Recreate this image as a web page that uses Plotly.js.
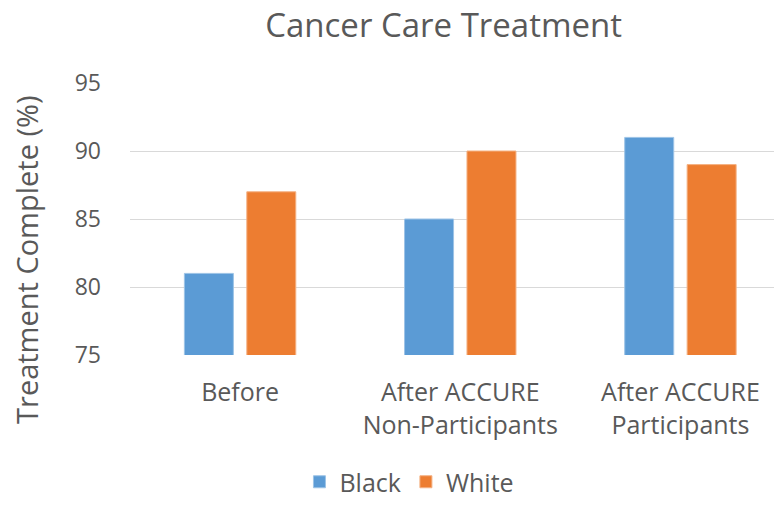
<!DOCTYPE html>
<html>
<head>
<meta charset="utf-8">
<script src="https://cdn.plot.ly/plotly-3.0.1.min.js"></script>
<style>html,body{margin:0;padding:0;background:#fff;}#chart{width:774px;height:505px;}</style>
</head>
<body>
<div id="chart"></div>
<script>
const categories = ["Before", "After ACCURE<br>Non-Participants", "After ACCURE<br>Participants"];
const blackValues = [81, 85, 91];
const whiteValues = [87, 90, 89];
const seriesNames = ["Black", "White"];
const yTicks = [75, 80, 85, 90, 95];

const FONT = "'Open Sans', 'Noto Sans', sans-serif";
const GREY = "#595959";

const traces = [
  {type: "bar", name: seriesNames[0], x: categories, y: blackValues,
   marker: {color: "#5B9BD5", line: {color: "#9DC3E6", width: 1}}},
  {type: "bar", name: seriesNames[1], x: categories, y: whiteValues,
   marker: {color: "#ED7D31", line: {color: "#F4B183", width: 1}}}
];

const layout = {
  width: 774, height: 505,
  margin: {l: 130, r: 0, t: 83, b: 150, pad: 0, autoexpand: false},
  paper_bgcolor: "#fff", plot_bgcolor: "#fff",
  font: {family: FONT, color: GREY, size: 22},
  title: {text: "Cancer Care Treatment", font: {family: FONT, size: 33, color: GREY},
          x: 0.487, xref: "paper", xanchor: "center", y: 0.95, yref: "container", yanchor: "middle"},
  barmode: "group",
  bargap: 0.433,
  bargroupgap: 0.215,
  xaxis: {type: "category", range: [-0.5, 2.425], showgrid: false, zeroline: false,
          showline: false, ticks: "", ticklabelstandoff: 20,
          tickfont: {family: FONT, size: 25, color: GREY}, fixedrange: true},
  yaxis: {range: [75, 95], tickvals: yTicks, showgrid: true, gridcolor: "#D9D9D9", gridwidth: 1,
          zeroline: false, showline: false, ticks: "", ticklabelstandoff: 28,
          tickfont: {family: FONT, size: 23, color: GREY}, fixedrange: true},
  showlegend: true,
  legend: {orientation: "h", x: 0.529, xref: "container", xanchor: "center",
           y: -0.01, yref: "container", yanchor: "bottom",
           font: {family: FONT, size: 25, color: GREY}, itemwidth: 30, traceorder: "normal"},
  annotations: [{text: "Treatment Complete (%)", textangle: -90, showarrow: false,
                 xref: "paper", yref: "paper", x: -0.16, y: 0.353, xanchor: "center", yanchor: "middle",
                 font: {family: FONT, size: 29, color: GREY}}]
};

Plotly.newPlot("chart", traces, layout, {displayModeBar: false, staticPlot: true});
</script>
</body>
</html>
